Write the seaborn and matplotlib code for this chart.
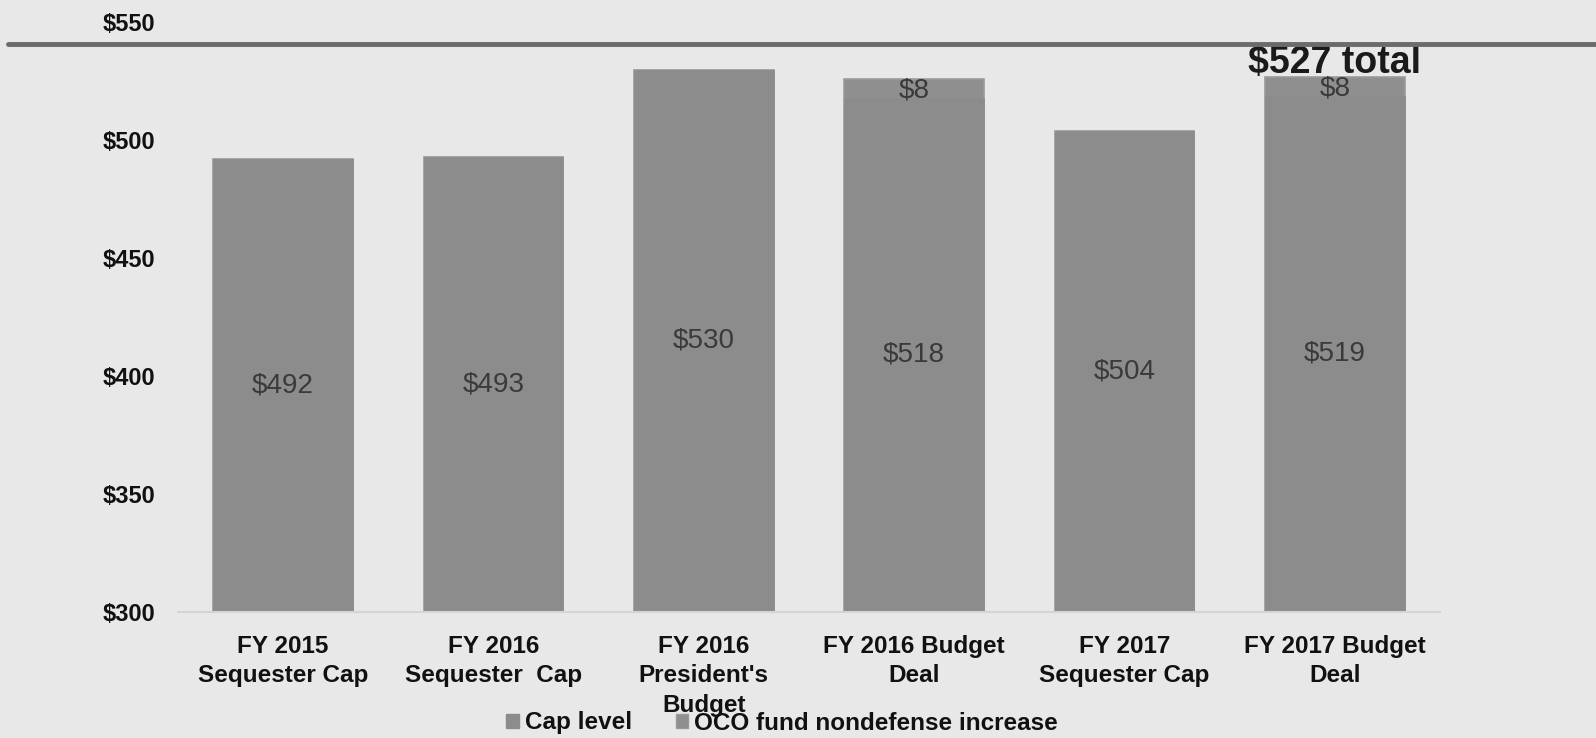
import matplotlib
matplotlib.use("Agg")
import matplotlib.pyplot as plt
import seaborn as sns
import pandas as pd
from matplotlib.lines import Line2D
from matplotlib.patches import Patch

categories = ["FY 2015\nSequester Cap", "FY 2016\nSequester  Cap", "FY 2016\nPresident's\nBudget",
              "FY 2016 Budget\nDeal", "FY 2017\nSequester Cap", "FY 2017 Budget\nDeal"]
cap_level = [492, 493, 530, 518, 504, 519]
oco_increase = [0, 0, 0, 8, 0, 8]
yticks = [300, 350, 400, 450, 500, 550]
ytick_labels = ["$300", "$350", "$400", "$450", "$500", "$550"]

sns.set_theme(style="white")
FONT = ['Liberation Sans', 'DejaVu Sans']
plt.rcParams['font.family'] = FONT

bg = "#e8e8e8"
bar_c = "#8c8c8c"
oco_c = "#8f8f8f"
txt_c = "#111111"

df = pd.DataFrame({"cat": categories, "cap": cap_level, "oco": oco_increase})
df["total"] = df["cap"] + df["oco"]

fig = plt.figure(figsize=(15.96, 7.38), dpi=100, facecolor=bg)
ax = fig.add_axes([178/1596, 1 - 612/738, (1440 - 178)/1596, (612 - 22.5)/738])
ax.set_facecolor(bg)

sns.barplot(data=df, x="cat", y="total", color=oco_c, width=0.665, ax=ax,
            edgecolor="#9a9a9a", linewidth=1.2, saturation=1)
sns.barplot(data=df, x="cat", y="cap", color=bar_c, width=0.665, ax=ax,
            edgecolor=bar_c, linewidth=0.5, saturation=1)

ax.set_ylim(300, 550)
ax.set_xlim(-0.5, 5.5)
ax.set_yticks(yticks)
ax.set_yticklabels(ytick_labels, fontsize=17, fontweight="bold", color=txt_c)
ax.set_xticks(range(len(categories)))
ax.set_xticklabels(categories, fontsize=17.5, fontweight="bold", color=txt_c, linespacing=1.35)
ax.tick_params(axis="y", length=0, pad=16.5)
ax.tick_params(axis="x", length=0, pad=16.5)
ax.set_xlabel("")
ax.set_ylabel("")
for s in ["top", "right", "left"]:
    ax.spines[s].set_visible(False)
ax.spines["bottom"].set_color("#d4d4d4")
ax.spines["bottom"].set_linewidth(1.5)

# value labels
for i, (c, o) in enumerate(zip(cap_level, oco_increase)):
    ax.text(i, (300 + c) / 2, f"${c}", ha="center", va="center", fontsize=20, color="#3a3a3a")
    if o:
        ax.text(i, c + o / 2 - 1, f"${o}", ha="center", va="center", fontsize=20, color="#3a3a3a")

ax.text(5, 528.5, f"${cap_level[5] + oco_increase[5]} total",
        ha="center", va="baseline", fontsize=27, fontweight="bold", color="#1a1a1a")

# decorative header line
fig.add_artist(Line2D([8/1596, 1.0], [1 - 43.5/738, 1 - 43.5/738], transform=fig.transFigure,
                      color="#6b6b6b", linewidth=3.5))

handles = [Patch(facecolor=bar_c, edgecolor=bar_c), Patch(facecolor=oco_c, edgecolor="#9a9a9a")]
leg = fig.legend(handles, ["Cap level", "OCO fund nondefense increase"], loc="center",
                 bbox_to_anchor=(782/1596, 1 - 723/738), ncol=2, frameon=False,
                 prop={"family": FONT, "weight": "bold", "size": 17.5},
                 handlelength=0.5, handleheight=0.5, handletextpad=0.25, columnspacing=1.8)
for t in leg.get_texts():
    t.set_color(txt_c)

fig.savefig("out.png", dpi=100, facecolor=bg)
